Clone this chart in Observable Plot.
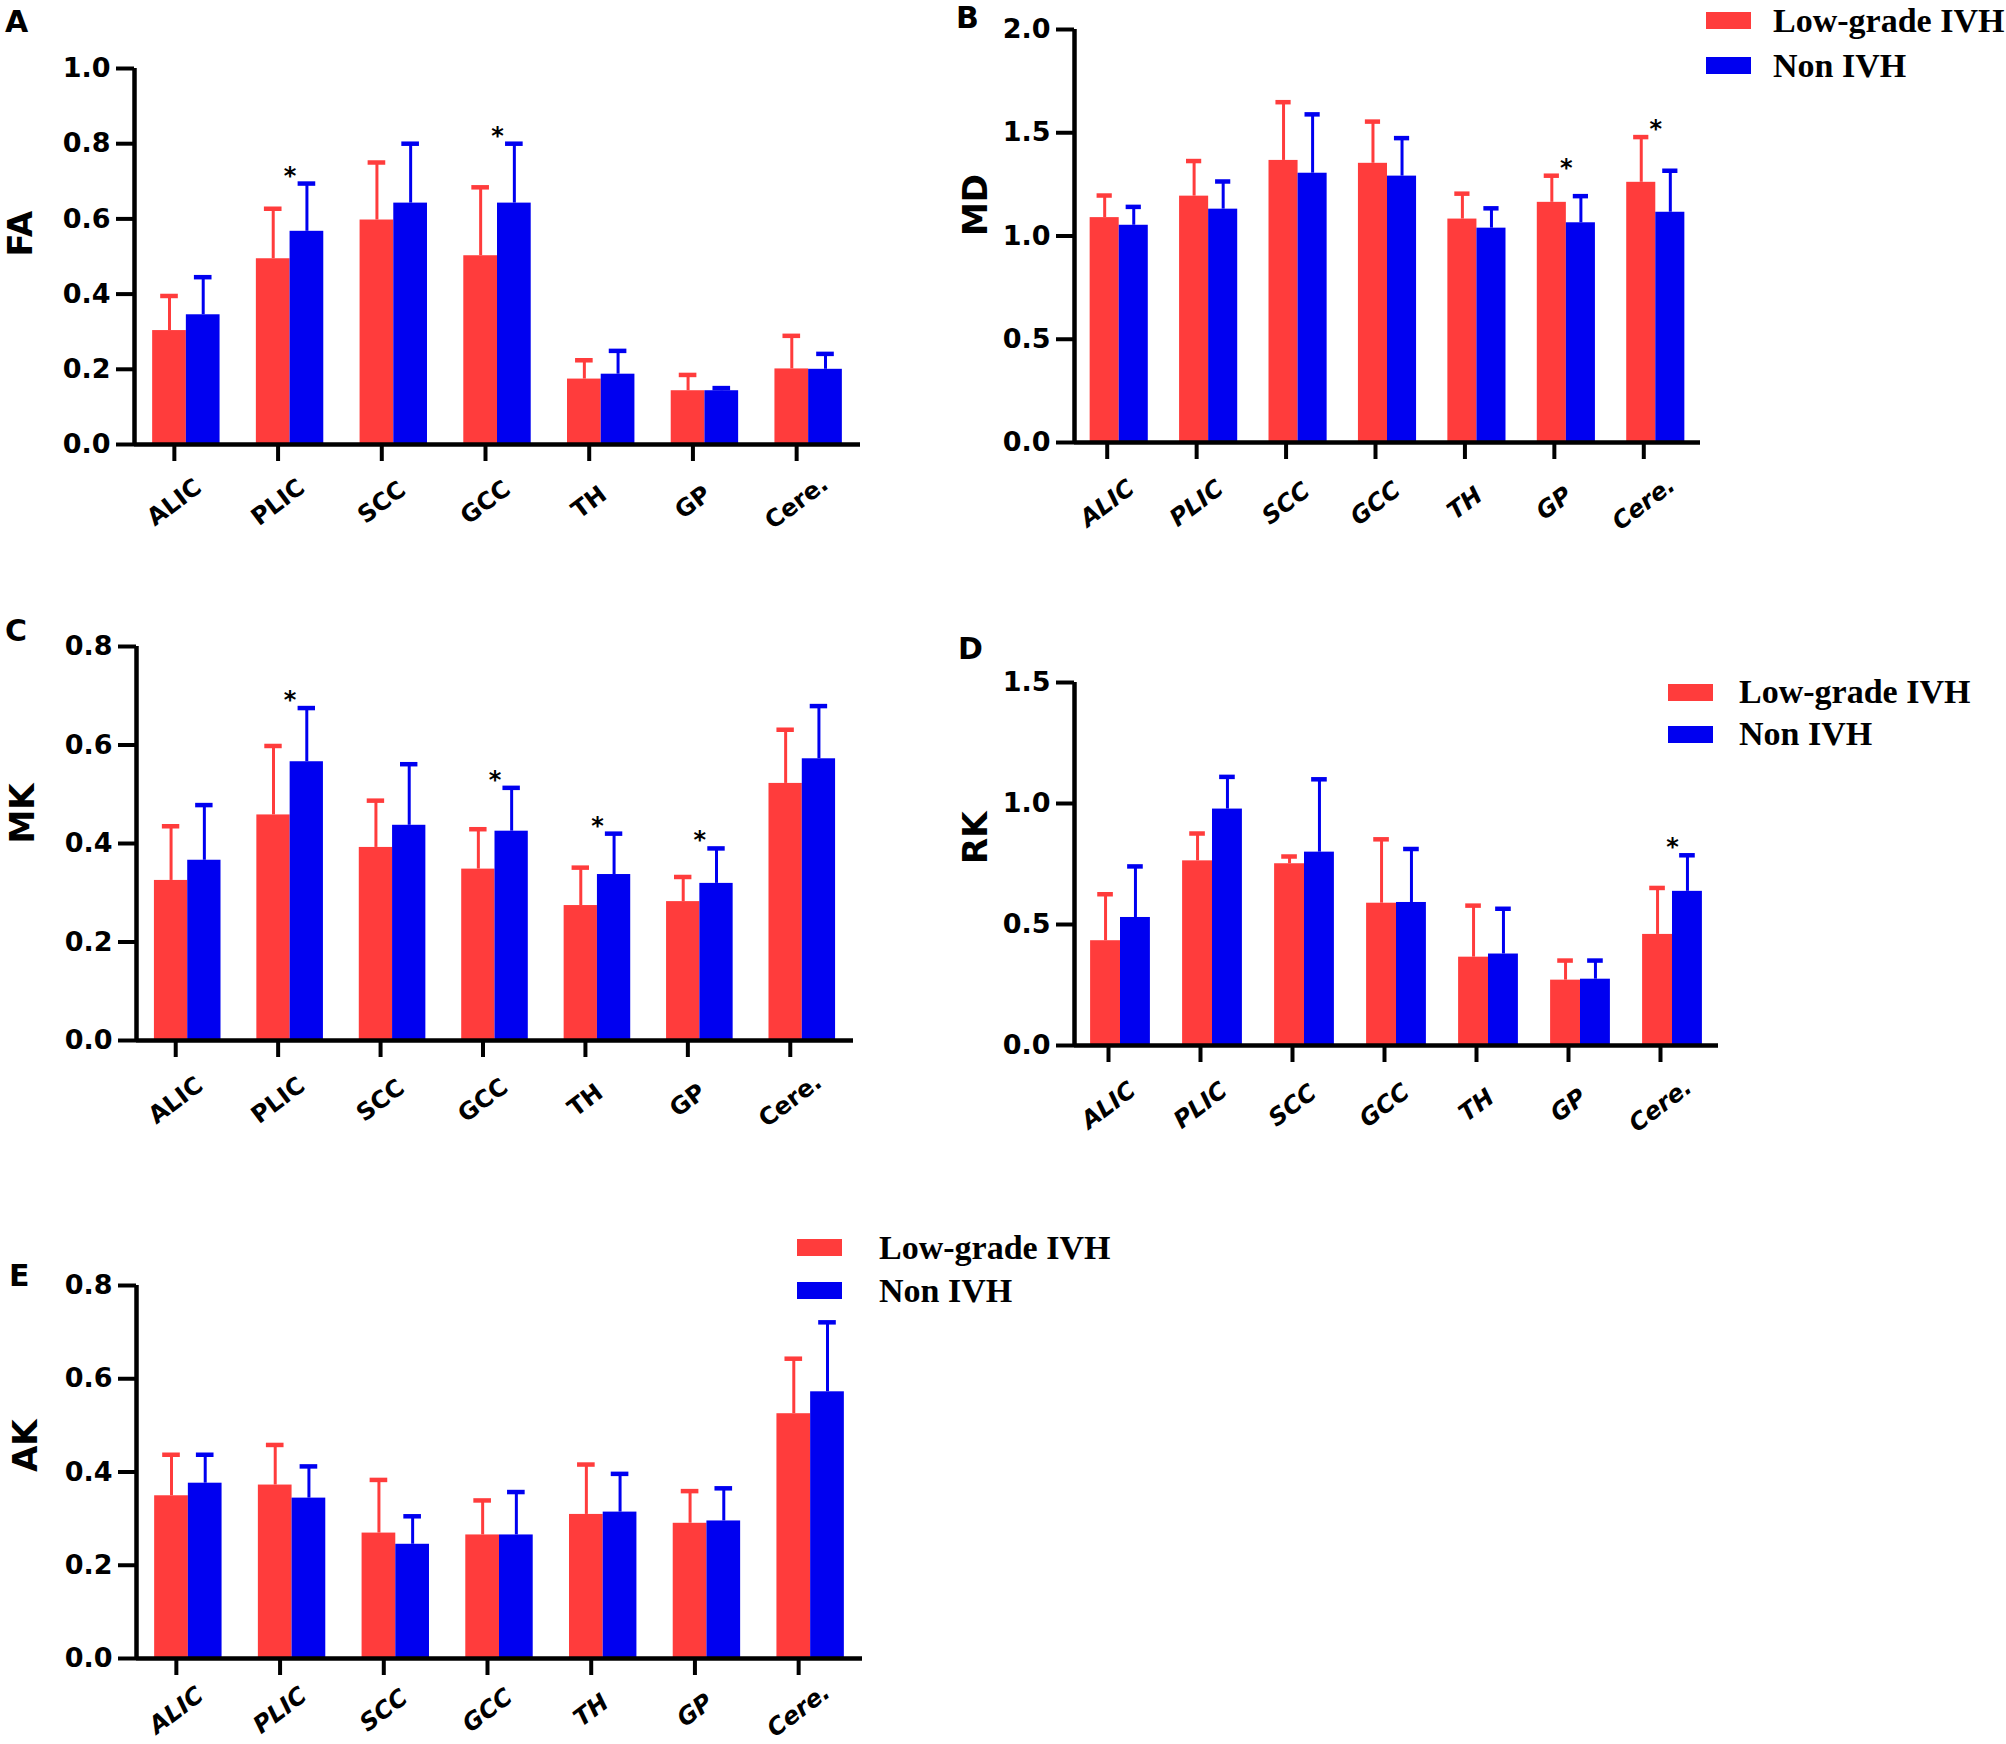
<!DOCTYPE html>
<html><head><meta charset="utf-8">
<script src="https://cdn.jsdelivr.net/npm/d3@7"></script>
<script src="https://cdn.jsdelivr.net/npm/@observablehq/plot@0.6"></script>
<style>
html,body{margin:0;padding:0;background:#fff;}
#fig{position:relative;width:2006px;height:1744px;background:#fff;overflow:hidden;}
.panel{position:absolute;}
.letter{position:absolute;font-family:"DejaVu Sans";font-weight:bold;font-size:30px;line-height:1;color:#000;}
.legend{position:absolute;font-family:"Liberation Serif";font-weight:bold;font-size:34px;line-height:1;color:#000;}
.legend .row{display:flex;align-items:center;white-space:nowrap;}
.legend .sw{width:45px;height:17px;flex:none;}
</style></head><body><div id="fig"></div><script>
// ---------- data ----------
const categories = ["ALIC", "PLIC", "SCC", "GCC", "TH", "GP", "Cere."];
const groups = ["Low-grade IVH", "Non IVH"];
const colors = ["#FF3C3C", "#0000F0"];

const FA_low   = [0.303, 0.494, 0.597, 0.502, 0.174, 0.143, 0.201];
const FA_lowSd = [0.092, 0.133, 0.153, 0.182, 0.050, 0.042, 0.088];
const FA_non   = [0.345, 0.567, 0.642, 0.642, 0.187, 0.143, 0.200];
const FA_nonSd = [0.100, 0.127, 0.158, 0.158, 0.062, 0.007, 0.041];
const FA_stars = ["PLIC", "GCC"];
const FA_ticks = [0, 0.2, 0.4, 0.6, 0.8, 1.0];

const MD_low   = [1.089, 1.193, 1.366, 1.352, 1.082, 1.163, 1.260];
const MD_lowSd = [0.107, 0.170, 0.282, 0.202, 0.123, 0.129, 0.219];
const MD_non   = [1.052, 1.130, 1.304, 1.290, 1.038, 1.064, 1.115];
const MD_nonSd = [0.089, 0.134, 0.285, 0.184, 0.096, 0.129, 0.201];
const MD_stars = ["GP", "Cere."];
const MD_ticks = [0, 0.5, 1.0, 1.5, 2.0];

const MK_low   = [0.325, 0.458, 0.392, 0.348, 0.274, 0.282, 0.522];
const MK_lowSd = [0.110, 0.140, 0.095, 0.081, 0.077, 0.050, 0.109];
const MK_non   = [0.366, 0.566, 0.437, 0.425, 0.337, 0.319, 0.572];
const MK_nonSd = [0.112, 0.109, 0.124, 0.088, 0.083, 0.071, 0.107];
const MK_stars = ["PLIC", "GCC", "TH", "GP"];
const MK_ticks = [0, 0.2, 0.4, 0.6, 0.8];

const RK_low   = [0.433, 0.763, 0.751, 0.588, 0.365, 0.270, 0.459];
const RK_lowSd = [0.192, 0.113, 0.030, 0.264, 0.213, 0.081, 0.192];
const RK_non   = [0.529, 0.977, 0.799, 0.591, 0.378, 0.274, 0.637];
const RK_nonSd = [0.211, 0.133, 0.301, 0.221, 0.187, 0.077, 0.149];
const RK_stars = ["Cere."];
const RK_ticks = [0, 0.5, 1.0, 1.5];

const AK_low   = [0.349, 0.372, 0.269, 0.265, 0.309, 0.290, 0.525];
const AK_lowSd = [0.088, 0.086, 0.114, 0.074, 0.107, 0.069, 0.118];
const AK_non   = [0.376, 0.344, 0.245, 0.265, 0.314, 0.295, 0.572];
const AK_nonSd = [0.061, 0.068, 0.060, 0.092, 0.082, 0.070, 0.149];
const AK_stars = [];
const AK_ticks = [0, 0.2, 0.4, 0.6, 0.8];

// ---------- layout (page pixels) ----------
const panels = [
  {letter: "A", label: "FA", low: FA_low, lowSd: FA_lowSd, non: FA_non, nonSd: FA_nonSd, stars: FA_stars, ticks: FA_ticks,
   sx: 0, sy: 0, L: 134, T: 68, R: 860, B: 444, labelX: 7, italic: false, lx: 5, ly: 7, pad: 41},
  {letter: "B", label: "MD", low: MD_low, lowSd: MD_lowSd, non: MD_non, nonSd: MD_nonSd, stars: MD_stars, ticks: MD_ticks,
   sx: 940, sy: 0, L: 1074, T: 29, R: 1700, B: 442, labelX: 962, italic: true, lx: 956, ly: 3, pad: 44,
   legend: {x: 1706, y: -2, gap: 22, row: 45}},
  {letter: "C", label: "MK", low: MK_low, lowSd: MK_lowSd, non: MK_non, nonSd: MK_nonSd, stars: MK_stars, ticks: MK_ticks,
   sx: 0, sy: 590, L: 136, T: 646, R: 853, B: 1040, labelX: 9, italic: false, lx: 5, ly: 616, pad: 43},
  {letter: "D", label: "RK", low: RK_low, lowSd: RK_lowSd, non: RK_non, nonSd: RK_nonSd, stars: RK_stars, ticks: RK_ticks,
   sx: 940, sy: 590, L: 1074, T: 682, R: 1718, B: 1045, labelX: 962, italic: true, lx: 958, ly: 634, pad: 43,
   legend: {x: 1668, y: 671, gap: 26, row: 42}},
  {letter: "E", label: "AK", low: AK_low, lowSd: AK_lowSd, non: AK_non, nonSd: AK_nonSd, stars: AK_stars, ticks: AK_ticks,
   sx: 0, sy: 1200, L: 136, T: 1285, R: 862, B: 1658, labelX: 12, italic: true, lx: 9, ly: 1261, pad: 35,
   legend: {x: 797, y: 1226, gap: 37, row: 43}}
];

const fig = document.getElementById("fig");
const BW = 0.325;   // bar width (category units)
const CAP = 0.085;  // half cap width (category units)
const MR = 30, MB = 125;

for (const p of panels) {
  const n = categories.length;
  const xDomain = [-0.5, n - 0.5];
  const yMax = p.ticks[p.ticks.length - 1];
  const rows = categories.flatMap((c, i) => [
    {i, grp: groups[0], mean: p.low[i], sd: p.lowSd[i], side: -1},
    {i, grp: groups[1], mean: p.non[i], sd: p.nonSd[i], side: 1}
  ]);
  const ctr = d => d.i + d.side * BW / 2;
  const top = d => d.mean + d.sd;
  const starRows = p.stars.map(c => {
    const i = categories.indexOf(c);
    return {i, y: Math.max(p.low[i] + p.lowSd[i], p.non[i] + p.nonSd[i])};
  });
  const mL = p.L - p.sx, mT = p.T - p.sy;
  const W = p.R - p.L, H = p.B - p.T;
  const chart = Plot.plot({
    width: mL + W + MR, height: mT + H + MB,
    marginLeft: mL, marginRight: MR, marginTop: mT, marginBottom: MB,
    x: {type: "linear", domain: xDomain},
    y: {domain: [0, yMax]},
    color: {domain: groups, range: colors},
    style: {fontFamily: "DejaVu Sans", fontWeight: "bold", background: "transparent", overflow: "visible", color: "#000"},
    marks: [
      Plot.rect(rows, {x1: d => d.side < 0 ? d.i - BW : d.i, x2: d => d.side < 0 ? d.i : d.i + BW, y1: 0, y2: "mean", fill: "grp"}),
      Plot.ruleX(rows, {x: ctr, y1: "mean", y2: top, stroke: "grp", strokeWidth: 3}),
      Plot.ruleY(rows, {y: top, x1: d => ctr(d) - CAP, x2: d => ctr(d) + CAP, stroke: "grp", strokeWidth: 4.5}),
      Plot.axisY({ticks: p.ticks, tickFormat: d3.format(".1f"), tickSize: 18, tickPadding: 6, fontSize: 27, strokeWidth: 4, label: null}),
      Plot.axisX({ticks: d3.range(n), tickFormat: i => categories[i], tickSize: 17, strokeWidth: 4,
        tickRotate: -37, textAnchor: "middle", lineAnchor: "middle", tickPadding: p.pad, dx: -12,
        fontSize: 24, fontStyle: p.italic ? "italic" : "normal", label: null}),
      Plot.ruleY([0], {strokeWidth: 4.5}),
      Plot.ruleX([xDomain[0]], {y1: 0, y2: yMax, strokeWidth: 4.5}),
      Plot.text(starRows, {x: "i", y: "y", text: () => "*", fontSize: 24, lineAnchor: "bottom", dy: 0}),
      Plot.text([p.label], {frameAnchor: "left", rotate: -90, dx: -(p.L - p.labelX), lineAnchor: "top", fontSize: 34})
    ]
  });
  chart.classList.add("panel");
  chart.style.left = p.sx + "px";
  chart.style.top = p.sy + "px";
  fig.appendChild(chart);

  const letter = document.createElement("div");
  letter.className = "letter";
  letter.textContent = p.letter;
  letter.style.left = p.lx + "px";
  letter.style.top = p.ly + "px";
  fig.appendChild(letter);

  if (p.legend) {
    const lg = document.createElement("div");
    lg.className = "legend";
    lg.style.left = p.legend.x + "px";
    lg.style.top = p.legend.y + "px";
    groups.forEach((g, k) => {
      const row = document.createElement("div");
      row.className = "row";
      row.style.height = p.legend.row + "px";
      const sw = document.createElement("span");
      sw.className = "sw";
      sw.style.background = colors[k];
      sw.style.marginRight = p.legend.gap + "px";
      const tx = document.createElement("span");
      tx.textContent = g;
      row.appendChild(sw);
      row.appendChild(tx);
      lg.appendChild(row);
    });
    fig.appendChild(lg);
  }
}
</script></body></html>
